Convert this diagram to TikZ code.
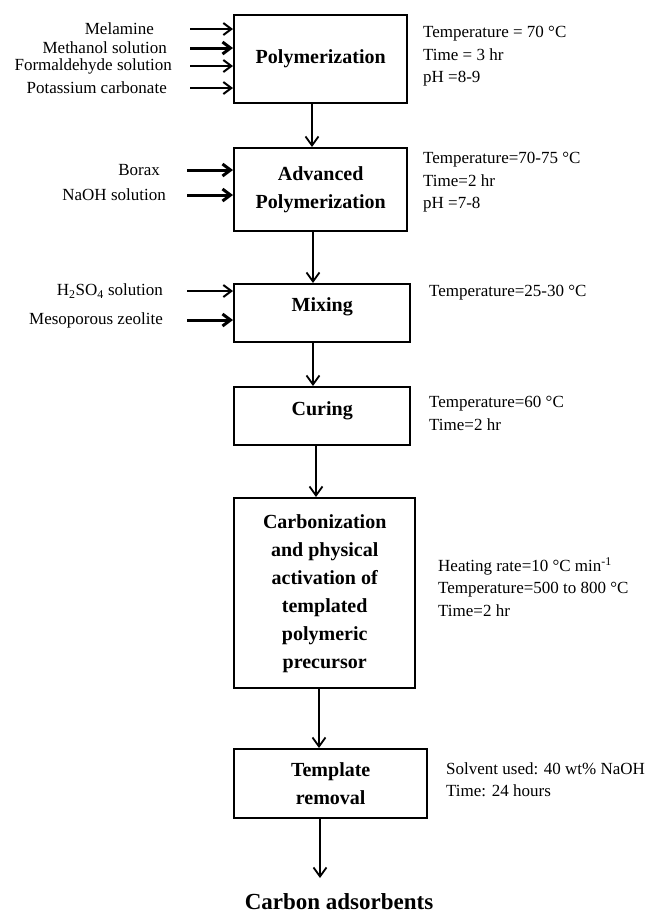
\documentclass[tikz,border=0pt]{standalone}
\usepackage{fontspec}
\setmainfont{Liberation Serif}
\usepackage{tikz}
\usetikzlibrary{arrows.meta,calc}

\begin{document}
\begin{tikzpicture}[x=1pt, y=-1pt,
  stage/.style={draw, line width=2.4pt, anchor=north west, align=center, inner sep=2pt, font=\fontsize{20}{28}\selectfont\bfseries},
  feed/.style={anchor=east, inner sep=0pt, font=\fontsize{17}{20}\selectfont},
  cond/.style={anchor=north west, align=left, inner sep=0pt, font=\fontsize{17}{22.5}\selectfont},
  flow/.style={line width=1.8pt, -{Straight Barb[length=9pt, width=13pt]}},
  inflow/.style={line width=2pt, -{Straight Barb[length=8pt, width=12pt]}},
  heavy/.style={line width=3pt}]
  \useasboundingbox (0,0) rectangle (649,914);
  \node[stage, minimum width=173pt, minimum height=88pt] (poly) at (233,14) {Polymerization};
  \node[stage, minimum width=173pt, minimum height=83pt] (adv) at (233,147) {Advanced\\Polymerization};
  \node[stage, minimum width=176pt, minimum height=58pt, text depth=18pt] (mix) at (233,283) {Mixing};
  \node[stage, minimum width=176pt, minimum height=58pt, text depth=16pt] (cure) at (233,386) {Curing};
  \node[stage, minimum width=181pt, minimum height=190pt] (carb) at (233,497)
    {Carbonization\\and physical\\activation of\\templated\\polymeric\\precursor};
  \node[stage, minimum width=193pt, minimum height=69pt] (tmpl) at (233,748) {Template\\removal};
  \node[font=\fontsize{23}{28}\selectfont\bfseries, inner sep=0pt] (prod) at (339,902) {Carbon adsorbents};
  \coordinate (out) at (320,878);
  \node[feed] (mel) at (154,29) {Melamine};
  \node[feed] (meth) at (167,48) {Methanol solution};
  \node[feed] (form) at (172,66) {Formaldehyde solution};
  \node[feed] (pot) at (167,88) {Potassium carbonate};
  \node[feed] (bor) at (160,170) {Borax};
  \node[feed] (naoh) at (166,195) {NaOH solution};
  \node[feed] (acid) at (163,291) {H\textsubscript{2}SO\textsubscript{4} solution};
  \node[feed] (zeo) at (163,320) {Mesoporous zeolite};
  \node[cond] (polyc) at (423,26) {Temperature = 70 °C\\Time = 3 hr\\pH =8-9};
  \node[cond] (advc) at (423,152) {Temperature=70-75 °C\\Time=2 hr\\pH =7-8};
  \node[cond] (mixc) at (429,285) {Temperature=25-30 °C};
  \node[cond] (curec) at (429,396) {Temperature=60 °C\\Time=2 hr};
  \node[cond] (carbc) at (438,557) {Heating rate=10 °C min\textsuperscript{-1}\\Temperature=500 to 800 °C\\Time=2 hr};
  \node[cond] (tmplc) at (446,762) {Solvent used: 40 wt\% NaOH\\Time: 24 hours};
  \foreach \n in {mel,form,pot}
    \draw[inflow] ($(\n.east -| poly.west)+(-43,0)$) -- (\n.east -| poly.west);
  \draw[inflow, heavy] ($(meth.east -| poly.west)+(-43,0)$) -- (meth.east -| poly.west);
  \foreach \n in {bor,naoh}
    \draw[inflow, heavy] ($(\n.east -| adv.west)+(-46,0)$) -- (\n.east -| adv.west);
  \draw[inflow] ($(acid.east -| mix.west)+(-46,0)$) -- (acid.east -| mix.west);
  \draw[inflow, heavy] ($(zeo.east -| mix.west)+(-46,0)$) -- (zeo.east -| mix.west);
  \draw[flow] ([xshift=79pt]poly.south west) -- ([xshift=79pt]adv.north west);
  \draw[flow] ([xshift=80pt]adv.south west) -- ([xshift=80pt]mix.north west);
  \draw[flow] ([xshift=80pt]mix.south west) -- ([xshift=80pt]cure.north west);
  \draw[flow] ([xshift=83pt]cure.south west) -- ([xshift=83pt]carb.north west);
  \draw[flow] ([xshift=86pt]carb.south west) -- ([xshift=86pt]tmpl.north west);
  \draw[flow] ([xshift=87pt]tmpl.south west) -- (out);
\end{tikzpicture}
\end{document}
